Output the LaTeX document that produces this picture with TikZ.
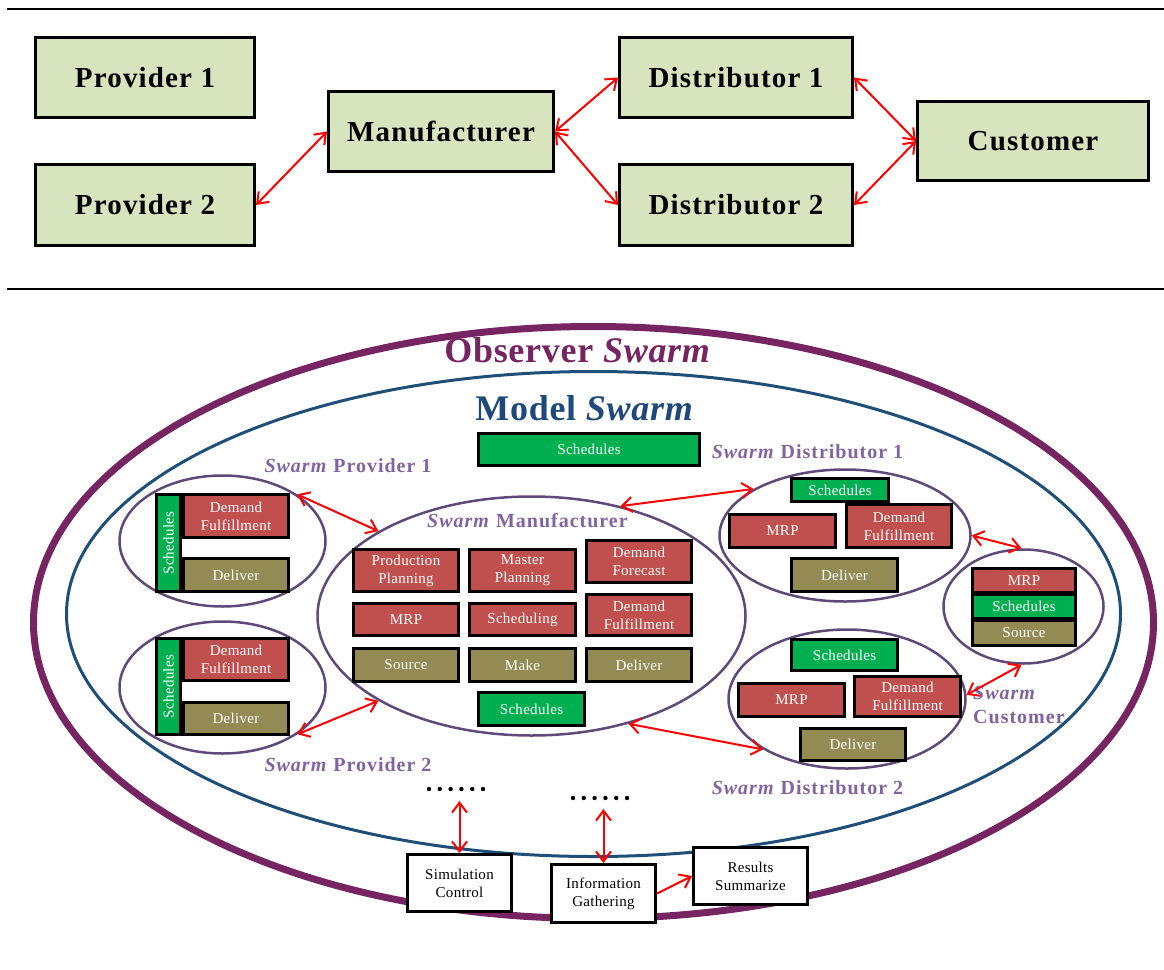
\documentclass[tikz,border=0pt]{standalone}
\usepackage{fontspec}
\setmainfont{Liberation Serif}
\newfontfamily\headfont[LetterSpace=4]{Liberation Serif}
\newfontfamily\titlefont[LetterSpace=2]{Liberation Serif}
\newfontfamily\labelfont[LetterSpace=5]{Liberation Serif}
\newfontfamily\boxfont[LetterSpace=2]{Liberation Serif}
\usetikzlibrary{shapes.geometric,arrows.meta}

\definecolor{topfill}{HTML}{D7E4BD}
\definecolor{redbox}{HTML}{C0504D}
\definecolor{olivebox}{HTML}{948A54}
\definecolor{greenbox}{HTML}{00B050}
\definecolor{observer}{HTML}{772462}
\definecolor{modelblue}{HTML}{1F4E79}
\definecolor{modeltext}{HTML}{1F497D}
\definecolor{swarmline}{HTML}{5F497A}
\definecolor{swarmtext}{HTML}{8064A2}
\definecolor{linkred}{HTML}{FF0000}

% box given by its corners: name, style, x1, y1, x2, y2, text
\newcommand{\placebox}[7]{%
  \pgfmathsetmacro{\pbcx}{(#3+#5)/2}%
  \pgfmathsetmacro{\pbcy}{(#4+#6)/2}%
  \pgfmathsetmacro{\pbw}{#5-#3-3}%
  \pgfmathsetmacro{\pbh}{#6-#4-3}%
  \node[#2, minimum width=\pbw pt, minimum height=\pbh pt] (#1) at (\pbcx,\pbcy) {#7};}

\tikzset{
  topbox/.style={draw=black, line width=3pt, fill=topfill, inner sep=0pt,
    font=\headfont\bfseries\fontsize{29}{32}\selectfont},
  unit/.style={draw=black, line width=3pt, inner sep=0pt, align=center,
    text=white, font=\boxfont\fontsize{15}{18}\selectfont},
  redunit/.style={unit, fill=redbox},
  oliveunit/.style={unit, fill=olivebox},
  greenunit/.style={unit, fill=greenbox},
  ctrlunit/.style={unit, fill=white, text=black},
  swarm/.style={ellipse, draw=swarmline, line width=2.5pt, inner sep=0pt},
  swarmlabel/.style={text=swarmtext, inner sep=0pt,
    font=\labelfont\bfseries\fontsize{20}{24}\selectfont},
  barb/.tip={Straight Barb[length=10pt,width=15pt]},
  link/.style={draw=linkred, line width=2pt, arrows={barb-barb}},
  onelink/.style={draw=linkred, line width=2pt, arrows={-barb}},
}

\begin{document}
\begin{tikzpicture}[x=1pt,y=-1pt]
\useasboundingbox (0,0) rectangle (1164,969);

% ---------- supply chain ----------
\draw[line width=2.5pt] (7,9) -- (1164,9);
\draw[line width=2.5pt] (7,289) -- (1164,289);

\placebox{prov1}{topbox}{34}{36}{256}{119}{Provider 1}
\placebox{prov2}{topbox}{34}{163}{256}{247}{Provider 2}
\placebox{manu}{topbox}{327}{90}{555}{173}{Manufacturer}
\placebox{dist1}{topbox}{618}{36}{854}{119}{Distributor 1}
\placebox{dist2}{topbox}{618}{163}{854}{247}{Distributor 2}
\placebox{cust}{topbox}{916}{100}{1150}{182}{Customer}

\draw[link] (prov2.east) -- (manu.west);
\draw[link] (manu.east) -- (dist1.west);
\draw[link] (manu.east) -- (dist2.west);
\draw[link] (dist1.east) -- (cust.west);
\draw[link] (dist2.east) -- (cust.west);

% ---------- swarm hierarchy ----------
\node[ellipse, draw=observer, line width=7pt, inner sep=0pt,
      minimum width=1120pt, minimum height=592pt] (obs) at (593.5,622.5) {};
\node[ellipse, draw=modelblue, line width=3pt, inner sep=0pt,
      minimum width=1054pt, minimum height=485pt] (mod) at (593.5,614) {};

\node[text=observer, inner sep=0pt, font=\titlefont\bfseries\fontsize{36}{40}\selectfont]
  (tobs) at (577.5,350) {Observer \textit{Swarm}};
\node[text=modeltext, inner sep=0pt, font=\titlefont\bfseries\fontsize{36}{40}\selectfont]
  (tmod) at (584.5,408) {Model \textit{Swarm}};

\placebox{schtop}{greenunit}{477}{432}{701}{467}{Schedules}

% agent swarms
\node[swarm, minimum width=206pt, minimum height=131pt] (ep1) at (222.5,541) {};
\node[swarm, minimum width=206pt, minimum height=132pt] (ep2) at (222.5,687.5) {};
\node[swarm, minimum width=428pt, minimum height=239pt] (em) at (531.5,616) {};
\node[swarm, minimum width=251pt, minimum height=132pt] (ed1) at (845,535.5) {};
\node[swarm, minimum width=160pt, minimum height=114pt] (ec) at (1023.5,606.5) {};
\node[swarm, minimum width=237pt, minimum height=139pt] (ed2) at (847,699) {};

\node[swarmlabel] (lp1) at (348,466) {\textit{Swarm} Provider 1};
\node[swarmlabel] (lp2) at (348,765) {\textit{Swarm} Provider 2};
\node[swarmlabel] (lm) at (527.5,521) {\textit{Swarm} Manufacturer};
\node[swarmlabel] (ld1) at (807.5,452) {\textit{Swarm} Distributor 1};
\node[swarmlabel] (ld2) at (807.5,788) {\textit{Swarm} Distributor 2};
\node[swarmlabel, align=left, anchor=west] (lc) at (973,705) {\textit{Swarm}\\Customer};

% provider 1
\node[greenunit, rotate=90, minimum width=97pt, minimum height=24pt] (sp1) at (168.5,543) {Schedules};
\placebox{dfp1}{redunit}{182}{493}{290}{539}{Demand\\Fulfillment}
\placebox{dlp1}{oliveunit}{182}{557}{290}{593}{Deliver}
% provider 2
\node[greenunit, rotate=90, minimum width=96pt, minimum height=24pt] (sp2) at (168.5,686.5) {Schedules};
\placebox{dfp2}{redunit}{182}{637}{290}{682}{Demand\\Fulfillment}
\placebox{dlp2}{oliveunit}{182}{701}{290}{736}{Deliver}

% manufacturer
\placebox{pp}{redunit}{352}{548}{460}{593}{Production\\Planning}
\placebox{mp}{redunit}{468}{548}{577}{593}{Master\\Planning}
\placebox{dfc}{redunit}{585}{539}{693}{584}{Demand\\Forecast}
\placebox{mrpm}{redunit}{352}{602}{460}{637}{MRP}
\placebox{schg}{redunit}{468}{602}{577}{637}{Scheduling}
\placebox{dfm}{redunit}{585}{593}{693}{637}{Demand\\Fulfillment}
\placebox{srcm}{oliveunit}{352}{647}{460}{683}{Source}
\placebox{mkm}{oliveunit}{468}{647}{577}{683}{Make}
\placebox{dlm}{oliveunit}{585}{647}{693}{683}{Deliver}
\placebox{schm}{greenunit}{477}{691}{586}{727}{Schedules}

% distributor 1
\placebox{sd1}{greenunit}{790}{477}{890}{503}{Schedules}
\placebox{mrpd1}{redunit}{728}{513}{837}{549}{MRP}
\placebox{dfd1}{redunit}{845}{503}{953}{549}{Demand\\Fulfillment}
\placebox{dld1}{oliveunit}{790}{557}{899}{593}{Deliver}

% customer
\placebox{mrpc}{redunit}{971}{567}{1077}{594}{MRP}
\placebox{sc}{greenunit}{971}{593}{1077}{620}{Schedules}
\placebox{srcc}{oliveunit}{971}{619}{1077}{647}{Source}

% distributor 2
\placebox{sd2}{greenunit}{790}{638}{899}{672}{Schedules}
\placebox{mrpd2}{redunit}{737}{682}{846}{718}{MRP}
\placebox{dfd2}{redunit}{853}{675}{962}{718}{Demand\\Fulfillment}
\placebox{dld2}{oliveunit}{799}{727}{907}{762}{Deliver}

% links between swarms
\draw[link] (ep1.32) -- (em.151);
\draw[link] (ep2.328) -- (em.209);
\draw[link] (em.51) -- (ed1.153);
\draw[link] (em.312) -- (ed2.211);
\draw[link] (ed1.0) -- (ec.92);
\draw[link] (ed2.2) -- (ec.268);

% observer tools
\foreach \i in {0,...,5} \fill (429+\i*10.8,789) circle[radius=2.2pt];
\foreach \i in {0,...,5} \fill (573+\i*10.8,798) circle[radius=2.2pt];
\coordinate (dotsA) at (459,801);
\coordinate (dotsB) at (602,809);

\placebox{simc}{ctrlunit}{406}{853}{513}{913}{Simulation\\Control}
\placebox{info}{ctrlunit}{550}{863}{657}{924}{Information\\Gathering}
\placebox{res}{ctrlunit}{692}{846}{809}{906}{Results\\Summarize}

\draw[link] (simc.north) -- (simc.north |- dotsA);
\draw[link] (info.north) -- (info.north |- dotsB);
\draw[onelink] (info.east) -- (res.west);
\end{tikzpicture}
\end{document}
